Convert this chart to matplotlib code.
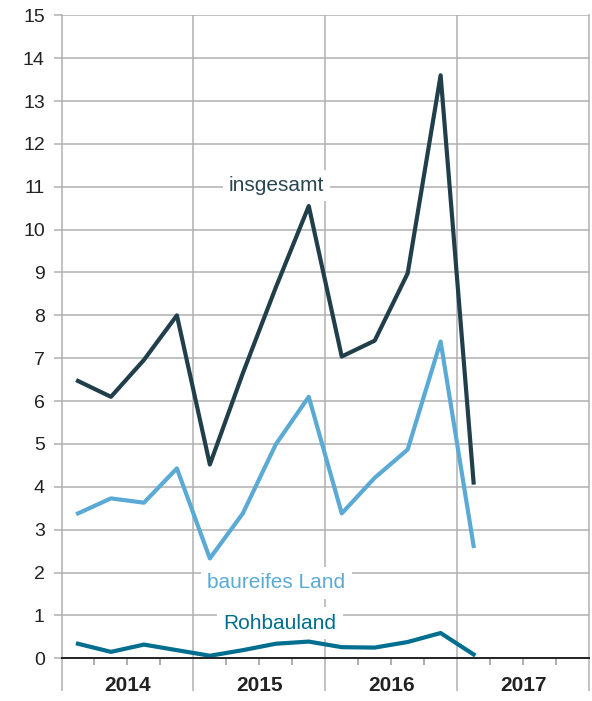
import matplotlib.pyplot as plt
import numpy as np

plt.rcParams['font.family'] = ['Liberation Sans', 'DejaVu Sans']

# quarterly values, 2014 Q1 .. 2017 Q1
insgesamt = [6.47, 6.10, 6.96, 8.00, 4.52, 6.65, 8.65, 10.55, 7.04, 7.41, 8.98, 13.60, 4.10]
baureifes_land = [3.38, 3.73, 3.63, 4.43, 2.33, 3.38, 4.99, 6.10, 3.38, 4.21, 4.87, 7.39, 2.62]
rohbauland = [0.34, 0.15, 0.32, 0.19, 0.06, 0.19, 0.34, 0.39, 0.26, 0.25, 0.38, 0.59, 0.09]
years = ['2014', '2015', '2016', '2017']

c_ins = '#213f4b'
c_bau = '#5aaad5'
c_roh = '#006e8e'
grid = '#b0b0b0'

x = np.arange(len(insgesamt)) + 0.5

fig = plt.figure(figsize=(5.92, 7.01), dpi=100)
ax = fig.add_axes([0.1039, 0.0609, 0.8910, 0.9173])
ax.set_xlim(0, 16)
ax.set_ylim(0, 15)

for yv in range(1, 16):
    ax.axhline(yv, color=grid, lw=1.1, zorder=1)
for xv in [4, 8, 12]:
    ax.axvline(xv, color=grid, lw=1.1, zorder=1)
ax.axhline(0, color='#222222', lw=1.4, zorder=4, clip_on=False)

for s in ['top', 'bottom']:
    ax.spines[s].set_visible(False)
for s in ['left', 'right']:
    ax.spines[s].set_color(grid)
    ax.spines[s].set_linewidth(1.1)

ax.plot(x, insgesamt, color=c_ins, lw=3, zorder=3)
ax.plot(x, baureifes_land, color=c_bau, lw=3, zorder=3)
ax.plot(x, rohbauland, color=c_roh, lw=3, zorder=3)

ax.set_yticks(range(16))
ax.tick_params(axis='y', length=6, width=1.1, color=grid, labelsize=14,
               labelcolor='#222222', pad=6)
ax.set_xticks([0, 4, 8, 12, 16])
ax.set_xticklabels([])
ax.set_xticks([q for q in range(16) if q % 4], minor=True)
ax.tick_params(axis='x', which='major', length=24, width=1.1, color=grid)
ax.tick_params(axis='x', which='minor', length=5, width=1.1, color='#999999')

for i, yr in enumerate(years):
    ax.annotate(yr, xy=(2 + 4 * i, 0), xycoords=('data', 'axes fraction'),
                xytext=(0, -19.5), textcoords='offset points', ha='center',
                va='center', fontsize=15, fontweight='bold', color='#222222')

box = dict(boxstyle='square,pad=0.3', fc='white', ec='none')
ax.text(6.52, 11.03, 'insgesamt', color='#2a4653', fontsize=15, ha='center',
        va='center', bbox=box, zorder=5)
ax.text(6.52, 1.76, 'baureifes Land', color=c_bau, fontsize=15, ha='center',
        va='center', bbox=box, zorder=5)
ax.text(6.62, 0.82, 'Rohbauland', color=c_roh, fontsize=15, ha='center',
        va='center', bbox=box, zorder=5)

fig.savefig('out.png', dpi=100)
